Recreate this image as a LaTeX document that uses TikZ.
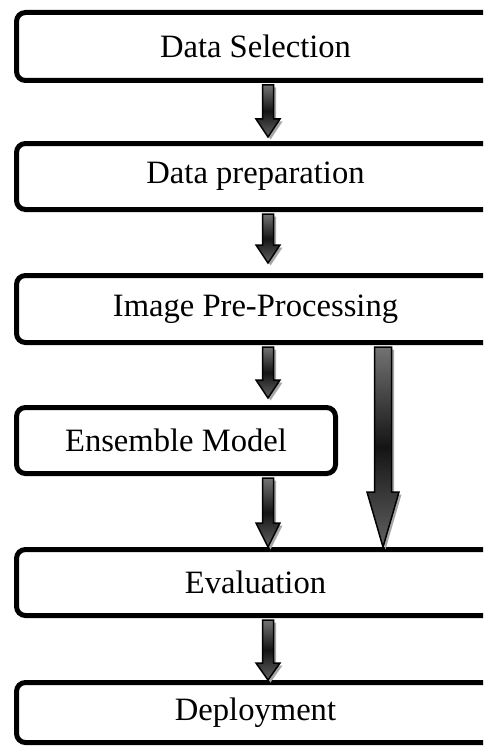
\documentclass[tikz,border=0pt]{standalone}
\usepackage{fontspec}
\setmainfont{Liberation Serif}
\usetikzlibrary{calc}

\tikzset{
  stage/.style={draw, line width=5pt, rounded corners=9pt, inner sep=0pt,
    anchor=north west, font=\fontsize{32.6}{38}\selectfont},
  arrowshadow/.style={fill=black!35, draw=none},
  arrowbody/.style={draw=black, line width=1.5pt, line join=miter,
    top color=black!55, bottom color=black!62, middle color=black!92},
}

% block arrow: #1 x, #2 start anchor, #3 target anchor, #4 half shaft,
% #5 half head, #6 head length, #7 gap above target, #8 style, #9 offset
\newcommand{\arrowshape}[9]{%
  \path[#8] let \p1=(#1,0), \p2=(#2), \p3=(#3) in
    (\x1-#4pt+#9pt,\y2-2pt-#9pt) -- (\x1-#4pt+#9pt,\y3+#7pt+#6pt-#9pt)
    -- (\x1-#5pt+#9pt,\y3+#7pt+#6pt-#9pt) -- (\x1+#9pt,\y3+#7pt-#9pt)
    -- (\x1+#5pt+#9pt,\y3+#7pt+#6pt-#9pt) -- (\x1+#4pt+#9pt,\y3+#7pt+#6pt-#9pt)
    -- (\x1+#4pt+#9pt,\y2-2pt-#9pt) -- cycle;}
\newcommand{\flowarrow}[7]{%
  \arrowshape{#1}{#2}{#3}{#4}{#5}{#6}{#7}{arrowshadow}{2.5}%
  \arrowshape{#1}{#2}{#3}{#4}{#5}{#6}{#7}{arrowbody}{0}}

\begin{document}
\begin{tikzpicture}[x=1pt,y=-1pt]
  \useasboundingbox (0,0) rectangle (483,749);
  \clip (0,0) rectangle (483,749);

  \node[stage, minimum width=478pt, minimum height=68pt] (sel)  at (14,10)  {Data Selection};
  \node[stage, minimum width=478pt, minimum height=66pt] (prep) at (14,141) {Data preparation};
  \node[stage, minimum width=478pt, minimum height=67pt] (pre)  at (14,273) {Image Pre-Processing};
  \node[stage, minimum width=319pt, minimum height=66pt] (ens)  at (14,405) {Ensemble Model};
  \node[stage, minimum width=478pt, minimum height=66pt] (eval) at (14,547) {Evaluation};
  \node[stage, minimum width=478pt, minimum height=60pt] (dep)  at (14,680) {Deployment};

  \flowarrow{268}{sel.south}{prep.north}{5.5}{12}{18}{4}
  \flowarrow{268}{prep.south}{pre.north}{5.5}{12}{18}{10}
  \flowarrow{268}{pre.south}{ens.north}{5.5}{12}{18}{7}
  \flowarrow{268}{ens.south}{eval.north}{5.5}{12}{24}{0}
  \flowarrow{383}{pre.south}{eval.north}{8.5}{16}{55}{0}
  \flowarrow{268}{eval.south}{dep.north}{5.5}{12}{17}{0}
\end{tikzpicture}
\end{document}
